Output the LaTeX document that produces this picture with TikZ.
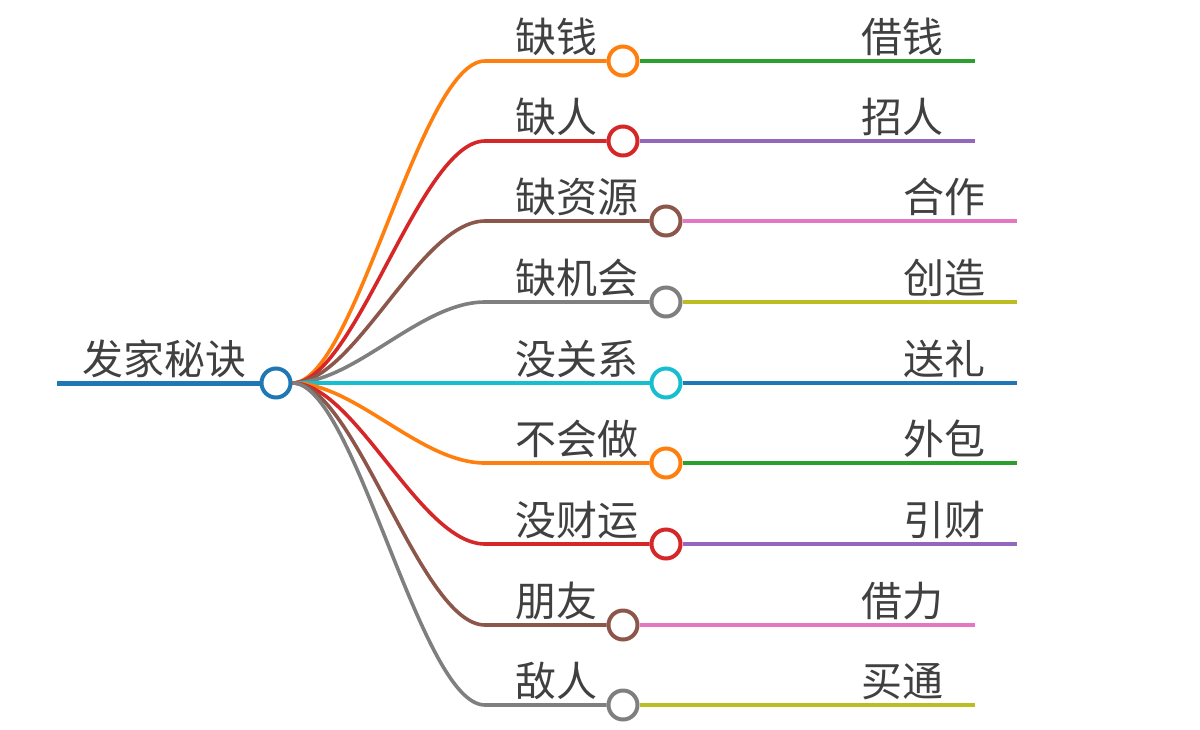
\documentclass[tikz,border=0pt]{standalone}
\usepackage{fontspec}
\newfontfamily\cjk{Noto Sans CJK SC}
\definecolor{tblue}{HTML}{1F77B4}
\definecolor{torange}{HTML}{FF7F0E}
\definecolor{tgreen}{HTML}{2CA02C}
\definecolor{tred}{HTML}{D62728}
\definecolor{tpurple}{HTML}{9467BD}
\definecolor{tbrown}{HTML}{8C564B}
\definecolor{tpink}{HTML}{E377C2}
\definecolor{tgray}{HTML}{7F7F7F}
\definecolor{tolive}{HTML}{BCBD22}
\definecolor{tcyan}{HTML}{17BECF}
\begin{document}
\begin{tikzpicture}[x=1pt,y=-1pt,
  nut/.style={circle,draw,fill=white,line width=4pt,minimum size=29pt,inner sep=0pt},
  nhan/.style={font=\cjk\fontsize{41}{41}\selectfont,text=black!75,inner sep=0pt},
  nhanh/.style={line width=3.6pt}]
\useasboundingbox (0,0) rectangle (1200,729);

% Vẽ nút gốc
\coordinate (dau) at (57,383);
\node[nut,draw=tblue] (goc) at (276,383) {};
\draw[line width=5pt,tblue] (dau) -- (goc.west);
\node[nhan,anchor=base west] (tgoc) at (82,374) {发家秘诀};

% Vẽ các nhánh
\foreach \i/\y/\ten/\mau/\cx/\kq/\mauk/\xe in {
  1/61/缺钱/torange/623/借钱/tgreen/975,
  2/141/缺人/tred/623/招人/tpurple/975,
  3/221/缺资源/tbrown/666/合作/tpink/1017,
  4/302/缺机会/tgray/666/创造/tolive/1017,
  5/383/没关系/tcyan/666/送礼/tblue/1017,
  6/463/不会做/torange/666/外包/tgreen/1017,
  7/544/没财运/tred/666/引财/tpurple/1017,
  8/625/朋友/tbrown/623/借力/tpink/975,
  9/705/敌人/tgray/623/买通/tolive/975}
{
  \coordinate (g\i) at (485,\y);
  \coordinate (e\i) at (\xe,\y);
  \node[nut,draw=\mau] (n\i) at (\cx,\y) {};
  \draw[nhanh,\mau] (goc.east) .. controls (355,383) and (420,\y) .. (g\i) -- (n\i.west);
  \draw[nhanh,\mauk] (n\i.east) -- (e\i);
  \node[nhan,anchor=base west] (t\i) at (515,\y-9) {\ten};
  \node[nhan,anchor=base east] (k\i) at (\xe-31,\y-9) {\kq};
}
\end{tikzpicture}
\end{document}
